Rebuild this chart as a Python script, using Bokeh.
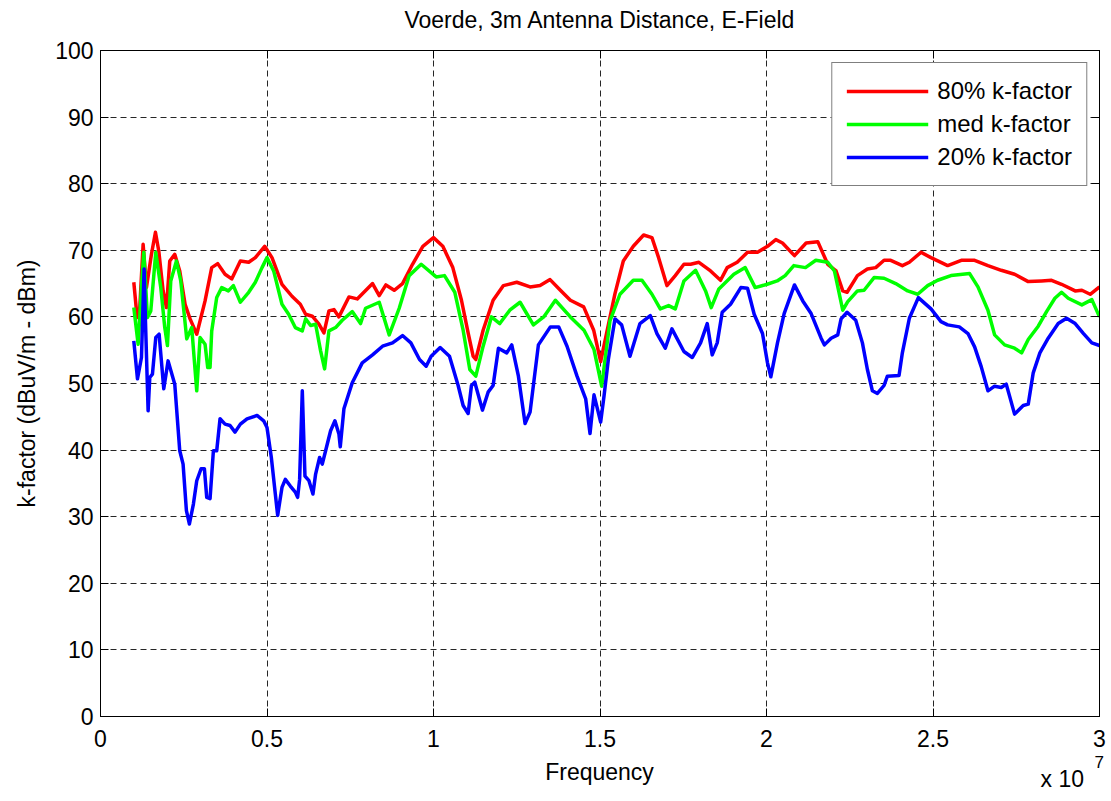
import numpy as np
from bokeh.plotting import figure
from bokeh.models import (Range1d, LinearAxis, FixedTicker, CustomJSTickFormatter,
                          Legend, LegendItem, Label)
from bokeh.embed import file_html
from bokeh.resources import INLINE

# Frequency in MHz, k-factor in dBuV/m - dBm
freq_80 = [1.0, 1.1, 1.18, 1.28, 1.38, 1.53, 1.65, 1.75, 1.88, 1.98, 2.08, 2.23, 2.38, 2.54, 2.69, 2.89,
           3.14, 3.34, 3.52, 3.74, 3.94, 4.2, 4.45, 4.65, 4.93, 5.15, 5.45, 5.75, 6.0, 6.16, 6.36, 6.56,
           6.71, 6.86, 7.01, 7.16, 7.46, 7.71, 8.17, 8.37, 8.57, 8.82, 9.07, 9.37, 9.68, 10.0, 10.28,
           10.58, 10.84, 11.04, 11.19, 11.27, 11.49, 11.79, 12.1, 12.5, 12.9, 13.2, 13.5, 13.81, 14.11,
           14.51, 14.81, 15.02, 15.2, 15.45, 15.7, 16.0, 16.31, 16.56, 16.76, 17.01, 17.26, 17.52,
           17.72, 17.97, 18.32, 18.62, 18.82, 19.12, 19.43, 19.73, 20.03, 20.28, 20.48, 20.84, 21.19,
           21.54, 21.84, 22.09, 22.29, 22.42, 22.73, 23.03, 23.28, 23.53, 23.73, 24.08, 24.29, 24.64,
           24.94, 25.44, 25.85, 26.25, 26.65, 27.05, 27.45, 27.86, 28.26, 28.56, 28.86, 29.27, 29.47,
           29.72, 30.0]
kf_80 = [65.2, 59.9, 61.4, 70.9, 64.4, 69.4, 72.7, 69.9, 63.9, 61.4, 68.4, 69.4, 66.9, 61.9, 59.7, 57.4,
         62.4, 67.4, 68.0, 66.4, 65.7, 68.4, 68.2, 68.9, 70.6, 68.9, 64.9, 63.1, 61.9, 60.4, 60.1, 58.9,
         57.6, 60.9, 61.1, 60.0, 63.0, 62.7, 65.0, 63.2, 64.8, 64.0, 65.0, 67.9, 70.6, 71.9, 70.6,
         67.4, 62.5, 57.6, 54.1, 53.6, 58.0, 62.5, 64.7, 65.2, 64.5, 64.7, 65.6, 64.0, 62.5,
         61.5, 58.0, 53.3, 57.6, 63.5, 68.4, 70.6, 72.3, 71.9, 68.9, 64.7, 66.2, 67.9,
         67.9, 68.2, 66.9, 65.5, 67.4, 68.2, 69.7, 69.7, 70.6, 71.6, 71.1, 69.2, 71.1,
         71.3, 67.9, 66.9, 63.9, 63.7, 66.2, 67.2, 67.4, 68.5, 68.5, 67.7, 68.2, 69.7,
         68.9, 67.7, 68.5, 68.5, 67.7, 67.0, 66.4, 65.3, 65.4, 65.5, 64.9, 63.9, 64.0,
         63.4, 64.5]

freq_med = [1.0, 1.13, 1.23, 1.3, 1.41, 1.51, 1.66, 1.81, 1.93, 2.01, 2.11, 2.28, 2.41, 2.59, 2.74, 2.89,
            2.99, 3.14, 3.22, 3.29, 3.34, 3.49, 3.64, 3.84, 3.99, 4.2, 4.45, 4.65, 4.85, 5.0, 5.2, 5.45,
            5.65, 5.85, 6.06, 6.16, 6.31, 6.46, 6.61, 6.73, 6.86, 7.06, 7.26, 7.56, 7.81, 7.96, 8.37,
            8.67, 8.97, 9.27, 9.63, 10.08, 10.33, 10.64, 10.89, 11.09, 11.27, 11.49, 11.74, 11.99,
            12.29, 12.6, 13.0, 13.31, 13.66, 14.11, 14.52, 14.82, 15.05, 15.3, 15.6, 16.0, 16.26,
            16.56, 16.81, 17.06, 17.26, 17.52, 17.87, 18.17, 18.34, 18.57, 19.02, 19.36, 19.66,
            20.02, 20.32, 20.56, 20.82, 21.17, 21.48, 21.84, 22.04, 22.29, 22.44, 22.73, 22.93,
            23.23, 23.53, 23.88, 24.24, 24.54, 24.84, 25.14, 25.54, 26.1, 26.35, 26.65, 26.85,
            27.15, 27.45, 27.66, 27.86, 28.16, 28.41, 28.66, 28.86, 29.06, 29.47, 29.77, 30.0]
kf_med = [61.4, 55.9, 64.4, 69.7, 59.9, 60.9, 69.7, 64.4, 58.4, 55.7, 65.4, 68.4, 65.4, 56.7, 58.4, 48.9,
          56.9, 55.9, 52.4, 52.4, 57.9, 62.9, 64.4, 63.9, 64.7, 62.2, 63.7, 65.2, 67.4, 68.9, 66.9, 61.9,
          60.4, 58.4, 57.9, 59.7, 58.7, 58.9, 54.9, 52.2, 57.9, 58.4, 59.5, 60.8, 59.0, 61.3, 62.2,
          57.3, 61.3, 66.2, 67.9, 66.0, 66.2, 63.7, 58.0, 52.1, 51.1, 55.6, 60.0, 59.0,
          61.0, 62.2, 58.8, 60.0, 62.5, 60.0, 58.0, 55.1, 49.6, 59.4, 63.4, 65.5, 65.5,
          63.4, 61.2, 61.7, 61.2, 65.4, 67.0, 63.9, 61.4, 64.2, 66.4, 67.4, 64.4,
          64.9, 65.4, 66.2, 67.7, 67.4, 68.5, 68.2, 66.9, 61.0, 62.3, 63.9, 64.0,
          65.9, 65.8, 65.0, 63.9, 63.4, 64.7, 65.5, 66.2, 66.5, 64.5, 61.0, 57.3,
          55.8, 55.3, 54.6, 56.6, 58.6, 60.8, 62.8, 63.7, 62.8, 61.8, 62.6, 60.0]

freq_20 = [1.0, 1.11, 1.23, 1.31, 1.35, 1.43, 1.48, 1.56, 1.66, 1.76, 1.9, 2.03, 2.23, 2.38, 2.48, 2.58,
           2.67, 2.79, 2.89, 3.02, 3.12, 3.19, 3.29, 3.39, 3.49, 3.59, 3.74, 3.89, 4.04, 4.2, 4.4, 4.7,
           4.9, 5.0, 5.13, 5.25, 5.32, 5.45, 5.55, 5.7, 5.85, 5.92, 5.98, 6.06, 6.14, 6.26, 6.38, 6.46,
           6.58, 6.66, 6.76, 6.91, 7.04, 7.16, 7.2, 7.31, 7.56, 7.86, 8.17, 8.47, 8.77, 9.07, 9.32,
           9.58, 9.78, 9.93, 10.2, 10.48, 10.74, 10.89, 11.04, 11.14, 11.24, 11.47, 11.64, 11.79,
           11.95, 12.2, 12.35, 12.55, 12.75, 12.9, 13.15, 13.51, 13.76, 14.01, 14.31, 14.57, 14.7,
           14.82, 15.02, 15.12, 15.25, 15.45, 15.65, 15.9, 16.2, 16.51, 16.71, 16.96, 17.16, 17.52,
           17.77, 18.02, 18.22, 18.37, 18.52, 18.67, 18.92, 19.23, 19.43, 19.63, 19.88, 20.03, 20.13,
           20.33, 20.53, 20.84, 21.09, 21.34, 21.64, 21.74, 21.94, 22.14, 22.24, 22.42, 22.68, 22.88,
           23.03, 23.18, 23.33, 23.53, 23.63, 23.98, 24.08, 24.29, 24.56, 24.94, 25.24, 25.44, 25.79,
           26.05, 26.25, 26.45, 26.65, 26.85, 27.05, 27.2, 27.3, 27.45, 27.71, 27.86, 28.01, 28.21,
           28.46, 28.76, 29.01, 29.27, 29.52, 29.77, 30.0]
kf_20 = [56.4, 50.7, 53.9, 67.2, 59.4, 45.9, 50.9, 51.4, 56.9, 57.4, 49.2, 53.4, 49.9, 39.9, 37.9, 30.9,
         28.9, 31.9, 35.4, 37.2, 37.2, 32.9, 32.7, 39.9, 39.9, 44.7, 43.9, 43.7, 42.7, 43.9, 44.7, 45.2,
         44.4, 43.4, 38.9, 33.4, 30.2, 34.4, 35.6, 34.6, 33.7, 32.9, 35.6, 48.9, 36.1, 35.4, 33.4, 36.4,
         38.9, 37.9, 39.9, 42.9, 44.4, 42.4, 40.5, 46.2, 50.1, 53.1, 54.3, 55.6, 56.1, 57.2, 56.1,
         53.6, 52.6, 54.1, 55.4, 54.1, 49.7, 46.7, 45.5, 49.7, 50.2, 46.0, 48.7, 49.7,
         55.3, 54.6, 55.8, 51.1, 44.0, 45.7, 55.8, 58.5, 58.5, 55.6, 51.1, 47.7, 42.5,
         48.3, 44.2, 48.1, 53.6, 59.7, 58.8, 54.1, 59.0, 60.2, 57.5, 55.3, 58.2, 54.8,
         53.9, 56.1, 59.0, 54.3, 56.1, 60.7, 61.9, 64.4, 64.3, 60.4, 57.5, 53.1, 51.0,
         56.1, 60.5, 64.8, 62.4, 60.5, 56.8, 55.8, 56.8, 57.3, 59.7, 60.7, 59.5, 56.1,
         52.1, 48.9, 48.5, 49.7, 51.1, 51.2, 54.6, 59.8, 62.9, 61.2, 59.3, 58.8, 58.5,
         57.5, 55.5, 52.5, 48.9, 49.6, 49.4, 49.9, 48.1, 45.4, 46.7, 46.9, 51.6, 54.6,
         56.8, 59.0, 59.8, 59.0, 57.5, 56.1, 55.7]

series = [
    ("80% k-factor", freq_80, kf_80, "#ff0000"),
    ("med k-factor", freq_med, kf_med, "#00ff00"),
    ("20% k-factor", freq_20, kf_20, "#0000ff"),
]

x_ticks = [0, 5e6, 1e7, 1.5e7, 2e7, 2.5e7, 3e7]
y_ticks = list(range(0, 101, 10))

TITLE = "Voerde, 3m Antenna Distance, E-Field"
FONT = "Liberation Sans"
FS = "23px"

p = figure(width=1111, height=801, output_backend="svg", toolbar_location=None,
           x_range=Range1d(0, 3e7), y_range=Range1d(0, 100),
           min_border_left=100, min_border_right=12, min_border_top=50, min_border_bottom=84,
           y_axis_label="k-factor (dBuV/m - dBm)")
p.background_fill_color = "white"
p.border_fill_color = "white"
p.outline_line_color = "black"

fmt = CustomJSTickFormatter(code="return (tick / 1e7).toString();")
blank = CustomJSTickFormatter(code="return '';")

for ax in (p.xaxis[0], p.yaxis[0]):
    ax.major_tick_in = 8
    ax.major_tick_out = 0
    ax.minor_tick_line_color = None
    ax.axis_line_color = "black"
    ax.major_tick_line_color = "black"
    ax.major_label_text_font = FONT
    ax.major_label_text_font_size = FS
    ax.major_label_text_color = "black"
    ax.axis_label_text_font = FONT
    ax.axis_label_text_font_size = FS
    ax.axis_label_text_font_style = "normal"
    ax.axis_label_text_color = "black"

p.xaxis[0].ticker = FixedTicker(ticks=x_ticks)
p.xaxis[0].formatter = fmt
p.xaxis[0].major_label_standoff = 13
p.yaxis[0].ticker = FixedTicker(ticks=y_ticks)
p.yaxis[0].major_label_standoff = 7
p.yaxis[0].axis_label_standoff = 12

# Box axes on top and right: ticks only; the top one carries the title
top_axis = LinearAxis(ticker=FixedTicker(ticks=x_ticks), formatter=blank,
                      major_tick_in=8, major_tick_out=0, minor_tick_line_color=None,
                      major_label_standoff=0, axis_line_color="black",
                      axis_label=TITLE, axis_label_standoff=18,
                      axis_label_text_font=FONT, axis_label_text_font_size=FS,
                      axis_label_text_font_style="normal", axis_label_text_color="black")
p.add_layout(top_axis, "above")
right_axis = LinearAxis(ticker=FixedTicker(ticks=y_ticks), formatter=blank,
                        major_tick_in=8, major_tick_out=0, minor_tick_line_color=None,
                        major_label_standoff=0, axis_line_color="black")
p.add_layout(right_axis, "right")

for g in (p.xgrid[0], p.ygrid[0]):
    g.grid_line_color = "#262626"
    g.grid_line_dash = "6 4"
    g.grid_line_width = 1
p.xgrid[0].ticker = FixedTicker(ticks=x_ticks)
p.ygrid[0].ticker = FixedTicker(ticks=y_ticks)

items = []
for name, f, k, color in series:
    r = p.line(np.array(f) * 1e6, k, line_color=color, line_width=3.5, line_join="round")
    items.append(LegendItem(label=name, renderers=[r]))

legend = Legend(items=items, location="top_right", margin=12, padding=14,
                glyph_width=82, glyph_height=24, label_height=24, spacing=5,
                label_standoff=9, label_text_font=FONT, label_text_font_size="24px",
                label_text_color="black",
                border_line_color="black", border_line_width=1,
                background_fill_color="white", background_fill_alpha=1)
p.add_layout(legend)

# x-axis caption and its exponent note, placed in canvas pixels
p.add_layout(Label(x=599, y=771, x_units="canvas", y_units="canvas", text="Frequency",
                   text_align="center", text_baseline="middle", text_font=FONT,
                   text_font_size=FS, text_color="black"), "below")
p.add_layout(Label(x=1040, y=778, x_units="canvas", y_units="canvas", text="x 10",
                   text_baseline="middle", text_font=FONT, text_font_size=FS,
                   text_color="black"), "below")
p.add_layout(Label(x=1094, y=761, x_units="canvas", y_units="canvas", text="7",
                   text_baseline="middle", text_font=FONT, text_font_size="17px",
                   text_color="black"), "left")

open("out.html", "w").write(file_html(p, INLINE))
